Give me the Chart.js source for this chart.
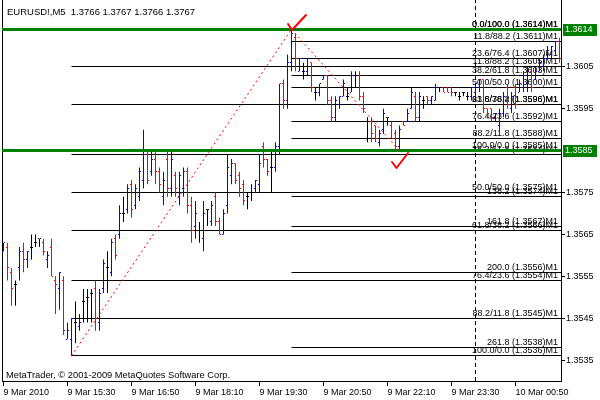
<!DOCTYPE html>
<html>
<head>
<meta charset="utf-8">
<script src="https://cdn.jsdelivr.net/npm/chart.js@4.4.1/dist/chart.umd.min.js"></script>
<style>html,body{margin:0;padding:0;background:#fff}canvas{display:block}</style>
</head>
<body>
<canvas id="c" width="600" height="400"></canvas>
<script>
// ---- OHLC data, EURUSD M5, one bar every 5 minutes starting 9 Mar 2010 14:10 ----
const openP = [
1.3561,1.3562,1.3556,1.3553,1.3557,1.3561,1.3559,1.3562,1.3563,1.3564,
1.3563,1.3559,1.3562,1.3554,1.3552,1.3554,1.3540,1.3540,1.3544,1.3543,
1.3549,1.3550,1.3551,1.3552,1.3544,1.3552,1.3557,1.3556,1.3564,1.3565,
1.3570,1.3571,1.3577,1.3572,1.3574,1.3578,1.3584,1.3580,1.3583,1.3580,
1.3574,1.3583,1.3576,1.3579,1.3574,1.3576,1.3580,1.3572,1.3567,1.3566,
1.3564,1.3571,1.3568,1.3574,1.3568,1.3565,1.3572,1.3579,1.3582,1.3579,
1.3577,1.3574,1.3575,1.3576,1.3577,1.3586,1.3583,1.3581,1.3581,1.3586,
1.3601,1.3597,1.3606,1.3612,1.3604,1.3604,1.3604,1.3606,1.3599,1.3599,
1.3602,1.3603,1.3597,1.3593,1.3596,1.3598,1.3598,1.3599,1.3603,1.3603,
1.3598,1.3592,1.3592,1.3591,1.3587,1.3590,1.3593,1.3591,1.3589,1.3586,
1.3592,1.3592,1.3595,1.3598,1.3593,1.3597,1.3598,1.3597,1.3597,1.3600,
1.3600,1.3600,1.3600,1.3599,1.3598,1.3599,1.3598,1.3598,1.3599,1.3600,
1.3602,1.3595,1.3595,1.3593,1.3591,1.3594,1.3600,1.3595,1.3600,1.3599,
1.3600,1.3601,1.3604,1.3602,1.3604,1.3605,1.3607,1.3608,1.3609,1.3611];
const highP = [
1.3563,1.3563,1.3557,1.3554,1.3562,1.3563,1.3561,1.3565,1.3565,1.3564,
1.3564,1.3561,1.3564,1.3555,1.3556,1.3555,1.3544,1.3545,1.3549,1.3546,
1.3552,1.3552,1.3552,1.3554,1.3552,1.3559,1.3561,1.3564,1.3565,1.3572,
1.3574,1.3577,1.3578,1.3577,1.3581,1.3590,1.3585,1.3585,1.3585,1.3581,
1.3580,1.3585,1.3585,1.3580,1.3580,1.3581,1.3581,1.3574,1.3573,1.3568,
1.3573,1.3571,1.3573,1.3575,1.3569,1.3571,1.3584,1.3583,1.3582,1.3580,
1.3578,1.3575,1.3577,1.3578,1.3584,1.3587,1.3583,1.3585,1.3587,1.3601,
1.3602,1.3608,1.3614,1.3613,1.3607,1.3606,1.3607,1.3606,1.3600,1.3601,
1.3603,1.3603,1.3598,1.3598,1.3598,1.3602,1.3600,1.3604,1.3604,1.3604,
1.3599,1.3593,1.3593,1.3591,1.3590,1.3595,1.3593,1.3592,1.3590,1.3591,
1.3592,1.3595,1.3600,1.3599,1.3599,1.3598,1.3598,1.3598,1.3601,1.3600,
1.3600,1.3600,1.3600,1.3599,1.3599,1.3599,1.3599,1.3600,1.3601,1.3602,
1.3602,1.3595,1.3595,1.3594,1.3595,1.3599,1.3601,1.3599,1.3601,1.3602,
1.3604,1.3605,1.3605,1.3605,1.3607,1.3608,1.3610,1.3610,1.3611,1.3612];
const lowP = [
1.3561,1.3554,1.3548,1.3548,1.3554,1.3556,1.3557,1.3559,1.3562,1.3562,
1.3560,1.3557,1.3555,1.3546,1.3547,1.3541,1.3540,1.3536,1.3539,1.3542,
1.3544,1.3544,1.3544,1.3542,1.3542,1.3551,1.3551,1.3555,1.3559,1.3564,
1.3568,1.3570,1.3569,1.3571,1.3573,1.3576,1.3577,1.3579,1.3577,1.3575,
1.3572,1.3574,1.3574,1.3574,1.3572,1.3574,1.3570,1.3563,1.3564,1.3563,
1.3561,1.3567,1.3567,1.3567,1.3565,1.3565,1.3570,1.3577,1.3577,1.3574,
1.3572,1.3571,1.3573,1.3575,1.3575,1.3581,1.3579,1.3575,1.3580,1.3584,
1.3595,1.3595,1.3604,1.3604,1.3604,1.3602,1.3603,1.3599,1.3597,1.3598,
1.3602,1.3596,1.3592,1.3592,1.3595,1.3598,1.3597,1.3599,1.3600,1.3597,
1.3594,1.3587,1.3587,1.3587,1.3586,1.3589,1.3591,1.3588,1.3585,1.3585,
1.3591,1.3592,1.3595,1.3592,1.3592,1.3595,1.3596,1.3596,1.3597,1.3599,
1.3599,1.3599,1.3598,1.3598,1.3597,1.3598,1.3597,1.3597,1.3598,1.3599,
1.3594,1.3593,1.3592,1.3592,1.3590,1.3593,1.3595,1.3594,1.3595,1.3599,
1.3599,1.3599,1.3599,1.3602,1.3604,1.3604,1.3607,1.3607,1.3608,1.3606];
const closeP = [
1.3563,1.3557,1.3552,1.3553,1.3561,1.3559,1.3561,1.3562,1.3563,1.3564,
1.3561,1.3560,1.3555,1.3553,1.3556,1.3542,1.3542,1.3545,1.3544,1.3544,
1.3549,1.3550,1.3551,1.3545,1.3551,1.3558,1.3557,1.3563,1.3560,1.3570,
1.3570,1.3576,1.3571,1.3576,1.3580,1.3584,1.3578,1.3583,1.3580,1.3577,
1.3578,1.3576,1.3583,1.3576,1.3579,1.3580,1.3572,1.3566,1.3570,1.3566,
1.3570,1.3571,1.3572,1.3568,1.3565,1.3570,1.3581,1.3582,1.3578,1.3576,
1.3573,1.3574,1.3575,1.3578,1.3582,1.3583,1.3580,1.3581,1.3586,1.3601,
1.3597,1.3606,1.3613,1.3607,1.3607,1.3604,1.3607,1.3600,1.3599,1.3601,
1.3603,1.3597,1.3593,1.3597,1.3598,1.3601,1.3598,1.3603,1.3603,1.3598,
1.3595,1.3592,1.3589,1.3588,1.3589,1.3594,1.3593,1.3588,1.3586,1.3590,
1.3591,1.3594,1.3599,1.3593,1.3598,1.3597,1.3597,1.3598,1.3600,1.3600,
1.3599,1.3599,1.3599,1.3599,1.3598,1.3599,1.3598,1.3600,1.3601,1.3602,
1.3595,1.3594,1.3593,1.3594,1.3594,1.3598,1.3596,1.3598,1.3596,1.3601,
1.3603,1.3604,1.3600,1.3604,1.3606,1.3607,1.3609,1.3610,1.3611,1.3607];

// ---- axes ----
const xTickBars = [0, 16, 32, 48, 64, 80, 96, 112, 128];
const xTickLabels = ['9 Mar 2010', '9 Mar 15:30', '9 Mar 16:50', '9 Mar 18:10', '9 Mar 19:30',
                     '9 Mar 20:50', '9 Mar 22:10', '9 Mar 23:30', '10 Mar 00:50'];
const yTickValues = [1.3535, 1.3545, 1.3555, 1.3565, 1.3575, 1.3595, 1.3605];
const xRange = [-0.375, 139.375];
const yRange = [1.3530, 1.3621];

// ---- objects drawn on the chart ----
const fib1Bars = [72, 99];   // retracement from the high to the later low
const fib1Levels = [1.3614, 1.3611, 1.3607, 1.3603, 1.3600, 1.3596, 1.3592, 1.3588, 1.3585, 1.3574, 1.3567, 1.3556, 1.3538];
const fib1Labels = ['0.0/100.0 (1.3614)M1', '11.8/88.2 (1.3611)M1', '23.6/76.4 (1.3607)M1', '38.2/61.8 (1.3603)M1',
  '50.0/50.0 (1.3600)M1', '61.8/38.2 (1.3596)M1', '76.4/23.6 (1.3592)M1', '88.2/11.8 (1.3588)M1',
  '100.0/0.0 (1.3585)M1', '138.2 (1.3574)M1', '161.8 (1.3567)M1', '200.0 (1.3556)M1', '261.8 (1.3538)M1'];
const fib2Bars = [17, 72];   // retracement from the low to the high
const fib2Levels = [1.3614, 1.3605, 1.3596, 1.3584, 1.3575, 1.3566, 1.3554, 1.3545, 1.3536];
const fib2Labels = ['0.0/100.0 (1.3614)M1', '11.8/88.2 (1.3605)M1', '23.6/76.4 (1.3596)M1', '38.2/61.8 (1.3584)M1',
  '50.0/50.0 (1.3575)M1', '61.8/38.2 (1.3566)M1', '76.4/23.6 (1.3554)M1', '88.2/11.8 (1.3545)M1', '100.0/0.0 (1.3536)M1'];
const hLinePrices = [1.3614, 1.3585];
const vLineBars = [118];
const checkBars = [72, 99];
const checkPrices = [1.3614, 1.3585];

const BLUE = '#0000ff', RED = '#ff0000', BLACK = '#000000', GREEN = '#008000';
const FONT9 = '9px "Liberation Sans", Arial, sans-serif';

const barColors = openP.map((o, i) => closeP[i] > o ? BLUE : (closeP[i] < o ? RED : BLACK));

function tickCanvas(color, left) {
  const c = document.createElement('canvas');
  c.width = 3; c.height = 1;
  const g = c.getContext('2d');
  g.fillStyle = color;
  g.fillRect(left ? 0 : 2, 0, 1, 1);
  return c;
}
const openTicks = {}, closeTicks = {};
[BLUE, RED, BLACK].forEach(c => { openTicks[c] = tickCanvas(c, true); closeTicks[c] = tickCanvas(c, false); });

function checkCanvas(pts) {
  const c = document.createElement('canvas');
  c.width = 40; c.height = 40;
  const g = c.getContext('2d');
  g.strokeStyle = RED; g.lineWidth = 2; g.lineCap = 'round'; g.lineJoin = 'round';
  g.beginPath(); g.moveTo(pts[0][0], pts[0][1]); g.lineTo(pts[1][0], pts[1][1]); g.lineTo(pts[2][0], pts[2][1]);
  g.stroke();
  return c;
}
const checkStyles = [checkCanvas([[16, 15], [20, 21], [34, 6]]), checkCanvas([[12, 31], [16.5, 37], [28, 22]])];

const datasets = [];
// fib levels (horizontal rays)
[[fib2Bars, fib2Levels], [fib1Bars, fib1Levels]].forEach(([bars, levels]) => {
  levels.forEach(v => datasets.push({
    type: 'line', data: [{x: Math.min(...bars), y: v}, {x: xRange[1], y: v}],
    borderColor: BLACK, borderWidth: 1, pointRadius: 0, snap: true, order: 60
  }));
});
// vertical dashed line
vLineBars.forEach(b => datasets.push({
  type: 'line', data: [{x: b, y: yRange[0]}, {x: b, y: yRange[1]}],
  borderColor: BLACK, borderWidth: 1, borderDash: [4, 3], pointRadius: 0, order: 55
}));
// OHLC high-low bars
datasets.push({
  type: 'bar', data: lowP.map((l, i) => ({x: i, y: [l, highP[i]]})),
  backgroundColor: barColors, borderWidth: 0, barThickness: 1, inflateAmount: 0, order: 40
});
// open ticks & close ticks
datasets.push({
  type: 'line', showLine: false, data: openP.map((v, i) => ({x: i, y: v})),
  pointRadius: 1, pointStyle: (c) => openTicks[barColors[c.dataIndex]], order: 30
});
datasets.push({
  type: 'line', showLine: false, data: closeP.map((v, i) => ({x: i, y: v})),
  pointRadius: 1, pointStyle: (c) => closeTicks[barColors[c.dataIndex]], order: 30
});
// green horizontal lines
hLinePrices.forEach(v => datasets.push({
  type: 'line', data: [{x: xRange[0], y: v}, {x: xRange[1], y: v}],
  borderColor: GREEN, borderWidth: 3, pointRadius: 0, snap: true, order: 20
}));
// red dotted fibo trend lines
[[fib2Bars[0], lowP[fib2Bars[0]], fib2Bars[1], highP[fib2Bars[1]]],
 [fib1Bars[0], highP[fib1Bars[0]], fib1Bars[1], lowP[fib1Bars[1]]]].forEach(([x0, y0, x1, y1]) => datasets.push({
  type: 'line', data: [{x: x0, y: y0}, {x: x1, y: y1}],
  borderColor: RED, borderWidth: 1, borderDash: [2, 3], pointRadius: 0, order: 10
}));
// check marks
datasets.push({
  type: 'line', showLine: false, data: checkBars.map((b, i) => ({x: b, y: checkPrices[i]})),
  pointRadius: 5, pointStyle: (c) => checkStyles[c.dataIndex], order: 0
});

const snapY = (y) => Math.floor(y) + 0.5;

const snapPlugin = {
  id: 'snap',
  beforeDatasetDraw(chart, args) {
    const ds = chart.data.datasets[args.index];
    if (!ds.snap) return;
    args.meta.data.forEach(p => { p.y = snapY(p.y); });
  }
};

const overlay = {
  id: 'overlay',
  beforeDatasetsDraw(chart) {
    const {ctx, chartArea, scales} = chart;
    ctx.save();
    ctx.font = FONT9; ctx.fillStyle = BLACK; ctx.textAlign = 'right'; ctx.textBaseline = 'alphabetic';
    [[fib2Levels, fib2Labels], [fib1Levels, fib1Labels]].forEach(([lv, lb]) => {
      lv.forEach((v, i) => ctx.fillText(lb[i], chartArea.right - 3, snapY(scales.y.getPixelForValue(v)) - 3));
    });
    ctx.restore();
    ctx.imageSmoothingEnabled = false;
  },
  afterDatasetsDraw(chart) { chart.ctx.imageSmoothingEnabled = true; },
  afterDraw(chart) {
    const {ctx, chartArea, scales} = chart;
    ctx.save();
    ctx.fillStyle = BLACK; ctx.textAlign = 'left'; ctx.textBaseline = 'alphabetic';
    ctx.font = '9.5px "Liberation Sans", Arial, sans-serif';
    ctx.fillText('EURUSD!,M5  1.3766 1.3767 1.3766 1.3767', 7, 15);
    ctx.font = '9.3px "Liberation Sans", Arial, sans-serif';
    ctx.fillText('MetaTrader, \u00A9 2001-2009 MetaQuotes Software Corp.', 6, 378);
    ctx.font = FONT9; ctx.textBaseline = 'middle';
    hLinePrices.forEach(v => {
      const y = snapY(scales.y.getPixelForValue(v));
      ctx.fillStyle = GREEN;
      ctx.fillRect(chartArea.right + 2, Math.round(y - 6), 34, 12);
      ctx.fillStyle = '#ffffff';
      ctx.fillText(v.toFixed(4), chartArea.right + 4, y + 0.5);
    });
    ctx.restore();
  }
};

new Chart(document.getElementById('c'), {
  type: 'bar',
  data: { datasets },
  options: {
    responsive: false, animation: false, devicePixelRatio: 1, events: [],
    layout: { padding: 0, autoPadding: false },
    plugins: { legend: { display: false }, tooltip: { enabled: false } },
    scales: {
      x: {
        type: 'linear', position: 'bottom', min: xRange[0], max: xRange[1], offset: false,
        grid: { drawOnChartArea: false, drawTicks: true, tickLength: 5, color: BLACK, offset: false },
        border: { display: true, color: BLACK, width: 1 },
        ticks: { autoSkip: false, maxRotation: 0, minRotation: 0, align: 'start', padding: 1,
                 color: BLACK, font: { family: '"Liberation Sans", Arial, sans-serif', size: 9 },
                 callback: (v, i) => xTickLabels[i] },
        afterBuildTicks: (s) => { s.ticks = xTickBars.map(v => ({ value: v })); },
        afterFit: (s) => { s.height = 19; s.paddingLeft = 0; s.paddingRight = 0; }
      },
      y: {
        type: 'linear', position: 'right', min: yRange[0], max: yRange[1],
        grid: { drawOnChartArea: false, drawTicks: true, tickLength: 4, color: BLACK },
        border: { display: true, color: BLACK, width: 1 },
        ticks: { padding: 1, color: BLACK, font: { family: '"Liberation Sans", Arial, sans-serif', size: 9 },
                 callback: (v) => Number(v).toFixed(4) },
        afterBuildTicks: (s) => { s.ticks = yTickValues.map(v => ({ value: v })); },
        afterFit: (s) => { s.width = 39; s.paddingTop = 0; s.paddingBottom = 0; }
      },
      yL: {
        type: 'linear', position: 'left', display: true,
        grid: { drawOnChartArea: false, drawTicks: false },
        border: { display: true, color: BLACK, width: 1 },
        ticks: { display: false },
        afterFit: (s) => { s.width = 2; s.paddingTop = 0; s.paddingBottom = 0; }
      }
    }
  },
  plugins: [snapPlugin, overlay]
});
</script>
</body>
</html>
